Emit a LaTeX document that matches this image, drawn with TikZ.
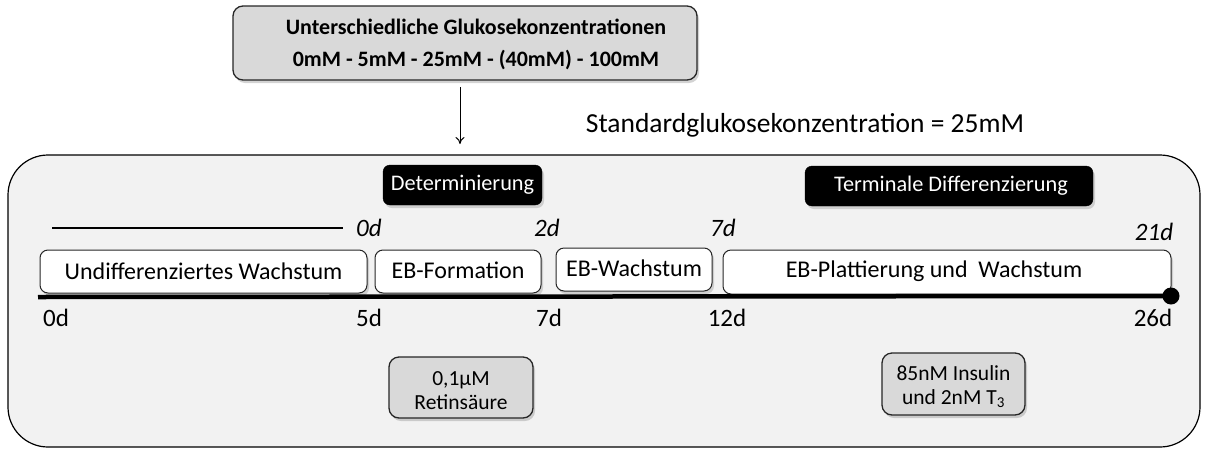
\documentclass[tikz,border=0pt]{standalone}
\usepackage{fontspec}
\setmainfont{Carlito}
\usetikzlibrary{shadows,arrows.meta}
\begin{document}
\begin{tikzpicture}[x=1pt,y=-1pt,
  gbox/.style={draw=black!85, line width=1.3pt, rounded corners=10pt, fill=black!15, drop shadow={shadow xshift=2pt, shadow yshift=-3pt, opacity=0.35}},
  wbox/.style={draw=black!85, line width=1pt, rounded corners=8pt, fill=white, drop shadow={shadow xshift=2pt, shadow yshift=-3pt, opacity=0.3}},
  bbox/.style={fill=black, rounded corners=7pt, drop shadow={shadow xshift=2pt, shadow yshift=-3pt, opacity=0.3}},
  lab/.style={font=\fontsize{25}{28}\selectfont},
  ilab/.style={font=\fontsize{25}{28}\selectfont\itshape},
  txt/.style={font=\fontsize{24}{27}\selectfont, align=center},
  wtxt/.style={font=\fontsize{22.3}{26}\selectfont, text=white},
  atxt/.style={font=\fontsize{21.5}{24}\selectfont, align=center}
]
\useasboundingbox (0,0) rectangle (1208,448);
% outer box
\draw[line width=1.2pt, rounded corners=40pt, fill=black!5] (8,155) rectangle (1200,447);
% top box
\draw[gbox] (233,6) rectangle (697,80);
\node[font=\fontsize{22}{32}\selectfont\bfseries, align=center] (top) at (476,44) {Unterschiedliche Glukosekonzentrationen\\0mM - 5mM - 25mM - (40mM) - 100mM};
\coordinate (topb) at (460,87);
\coordinate (arr) at (460,144);
\draw[-{To[length=7pt,width=9pt]}, line width=1pt] (topb) -- (arr);
\node[font=\fontsize{27.5}{30}\selectfont] (std) at (805,125) {Standardglukosekonzentration = 25mM};
% black boxes
\draw[bbox] (383,165) rectangle (542,205);
\node[wtxt] (det) at (462.5,185) {Determinierung};
\draw[bbox] (805,166) rectangle (1093,206);
\node[wtxt] (term) at (951,186) {Terminale Differenzierung};
% top line and italic labels
\coordinate (l1) at (52,228);
\coordinate (l2) at (343,228);
\draw[line width=1.2pt] (l1) -- (l2);
\node[ilab] (d0) at (369,228) {0d};
\node[ilab] (d2) at (547,228) {2d};
\node[ilab] (d7) at (723,228) {7d};
\node[ilab] (d21) at (1154,232) {21d};
% phase boxes
\draw[wbox] (40,250) rectangle (367,293);
\node[txt] (p1) at (203.5,271.5) {Undifferenziertes Wachstum};
\draw[wbox] (375,250) rectangle (541,293);
\node[txt] (p2) at (458,270) {EB-Formation};
\draw[wbox] (556,248) rectangle (712,291);
\node[txt] (p3) at (634,268) {EB-Wachstum};
\draw[wbox] (723,250) rectangle (1171,294);
\node[txt] (p4) at (934,271.5) {EB-Plattierung und~~Wachstum};
% timeline
\coordinate (t0) at (38,297);
\node[circle, fill=black, inner sep=0pt, minimum size=17pt] (tend) at (1171,296) {};
\draw[line width=4.5pt] (t0) -- (tend.center);
\node[lab] (b0) at (56,318) {0d};
\node[lab] (b5) at (369,318) {5d};
\node[lab] (b7) at (549,318) {7d};
\node[lab] (b12) at (727,318) {12d};
\node[lab] (b26) at (1153,318) {26d};
% additive boxes
\draw[gbox] (389,357) rectangle (533,418);
\node[atxt] (ra) at (461,391) {0,1µM\\Retinsäure};
\draw[gbox] (882,353) rectangle (1025,415);
\node[atxt] (ins) at (953.5,387) {85nM Insulin\\und 2nM T\textsubscript{3}};
\end{tikzpicture}
\end{document}
